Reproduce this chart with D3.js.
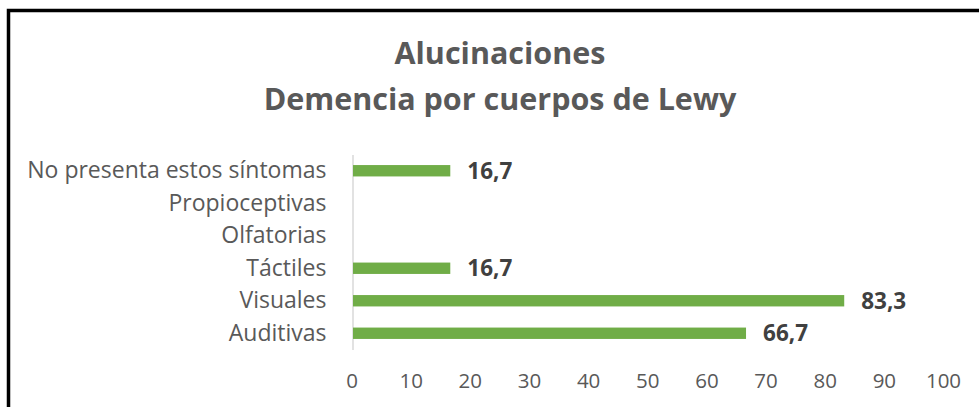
<!DOCTYPE html>
<html>
<head>
<meta charset="utf-8">
<script src="https://cdn.jsdelivr.net/npm/d3@7"></script>
<style>
  body { margin: 0; background: #fff; }
  svg { display: block; font-family: "Open Sans", sans-serif; }
</style>
</head>
<body>
<div id="graph"></div>
<script>
const w = 979;
const h = 407;

// data, top row first
const categories = ["No presenta estos síntomas", "Propioceptivas", "Olfatorias", "Táctiles", "Visuales", "Auditivas"];
const values = [16.7, 0, 0, 16.7, 83.3, 66.7];
const xTicks = [0, 10, 20, 30, 40, 50, 60, 70, 80, 90, 100];
const titleLines = ["Alucinaciones", "Demencia por cuerpos de Lewy"];

const data = categories.map((c, i) => ({ name: c, value: values[i] }));

const green = "#70ad47";
const grey = "#595959";

const svg = d3.select('#graph')
              .append('svg')
              .attr('width', w)
              .attr('height', h);

// chart frame (only top and left edges are visible in the crop)
svg.append('rect')
    .attr('x', 8.5)
    .attr('y', 10.5)
    .attr('width', w + 20)
    .attr('height', h + 20)
    .attr('fill', 'none')
    .attr('stroke', '#000')
    .attr('stroke-width', 3.5);

// title
svg.append('text')
    .attr('text-anchor', 'middle')
    .attr('fill', grey)
    .style('font-weight', 'bold')
    .style('font-size', '30.5px')
    .selectAll('tspan')
    .data(titleLines)
    .enter()
    .append('tspan')
    .attr('x', 500)
    .attr('y', (d, i) => 64 + i * 46)
    .text(d => d);

// scales
const xScale = d3.scaleLinear()
                .domain([0, 100])
                .range([351.5, 943]);

const yScale = d3.scaleBand()
                .domain(categories)
                .range([154.5, 349.5])
                .paddingInner(0.65)
                .paddingOuter(0.325);

// x axis: labels only
const xAxis = svg.append('g')
    .attr('transform', 'translate(0,' + 349.5 + ')')
    .call(d3.axisBottom(xScale).tickValues(xTicks).tickSize(0).tickPadding(23.5));
xAxis.select('.domain').remove();
xAxis.selectAll('text')
    .attr('fill', grey)
    .style('font-size', '20.5px')
    .style('font-family', '"Open Sans", sans-serif');

// y axis
const yAxis = svg.append('g')
    .attr('transform', 'translate(' + 352.5 + ',0)')
    .call(d3.axisLeft(yScale).tickSize(0).tickPadding(26));
yAxis.select('.domain')
    .attr('stroke', '#d9d9d9')
    .attr('stroke-width', 1.5);
yAxis.selectAll('text')
    .attr('fill', grey)
    .style('font-size', '23px')
    .style('font-family', '"Open Sans", sans-serif');

// bars
svg.selectAll('.bar')
    .data(data)
    .enter()
    .append('rect')
    .attr('class', 'bar')
    .attr('x', xScale(0) + 1.5)
    .attr('y', d => yScale(d.name))
    .attr('width', d => Math.max(0, xScale(d.value) - xScale(0) - 1.5))
    .attr('height', yScale.bandwidth())
    .attr('fill', green);

// value labels (skip empty rows)
svg.selectAll('.label')
    .data(data.filter(d => d.value > 0))
    .enter()
    .append('text')
    .attr('class', 'label')
    .attr('x', d => xScale(d.value) + 17)
    .attr('y', d => yScale(d.name) + yScale.bandwidth() / 2)
    .attr('dy', '0.36em')
    .attr('fill', '#404040')
    .style('font-weight', 'bold')
    .style('font-size', '22.5px')
    .text(d => d3.format('.1f')(d.value).replace('.', ','));
</script>
</body>
</html>
